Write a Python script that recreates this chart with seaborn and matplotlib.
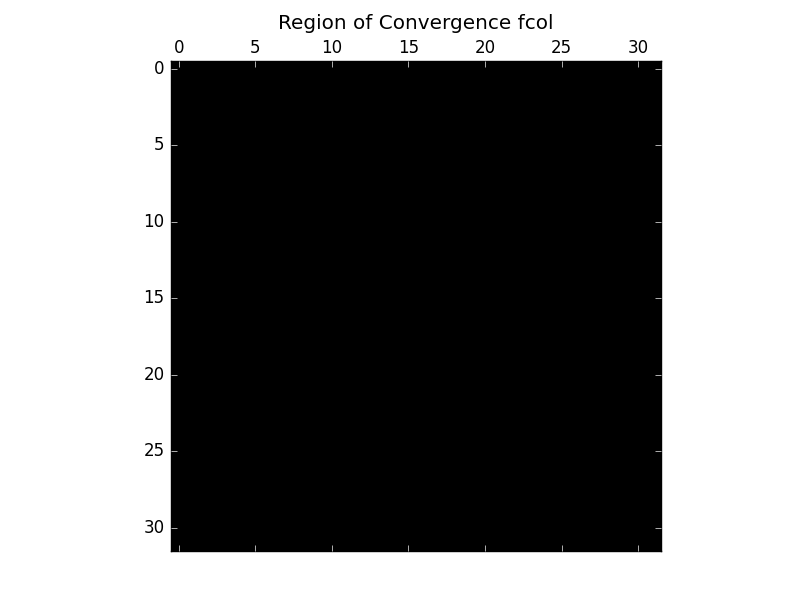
import numpy as np
import matplotlib
matplotlib.use('Agg')
import matplotlib.pyplot as plt
import seaborn as sns

# region of convergence grid: every cell converged to the same value
n_rows = 32
n_cols = 32
region = np.zeros((n_rows, n_cols))
tick_values = [0, 5, 10, 15, 20, 25, 30]
title = 'Region of Convergence fcol'

sns.set_style('white')
plt.style.use('classic')
plt.rcParams['font.family'] = ['DejaVu Sans']
plt.rcParams['font.size'] = 12
plt.rcParams['text.color'] = 'black'
plt.rcParams['xtick.color'] = 'black'
plt.rcParams['ytick.color'] = 'black'

fig = plt.figure(figsize=(8.12, 6.12), dpi=100, facecolor='white')
ax = fig.add_axes([0.125, 0.1, 0.775, 0.8])
sns.heatmap(region, cmap='gray', vmin=0, vmax=1, cbar=False, square=True,
            ax=ax, xticklabels=False, yticklabels=False)

ax.set_xlim(0, n_cols)
ax.set_ylim(n_rows, 0)
ax.set_xticks([t + 0.5 for t in tick_values])
ax.set_yticks([t + 0.5 for t in tick_values])
ax.set_xticklabels([str(t) for t in tick_values])
ax.set_yticklabels([str(t) for t in tick_values], rotation=0)
ax.xaxis.tick_top()
ax.tick_params(axis='both', which='major', direction='in', length=4,
               width=0.6, color='0.8', labelsize=12, labelcolor='black',
               top=True, bottom=True, left=True, right=True,
               labeltop=True, labelbottom=False, labelleft=True, labelright=False)
ax.tick_params(axis='x', pad=3)
ax.tick_params(axis='y', pad=5)
for s in ax.spines.values():
    s.set_visible(True)
    s.set_color('black')
    s.set_linewidth(1.0)

ax.set_title(title, fontsize=14.4, pad=23, color='black')

fig.savefig('out.png', dpi=100, facecolor='white')
